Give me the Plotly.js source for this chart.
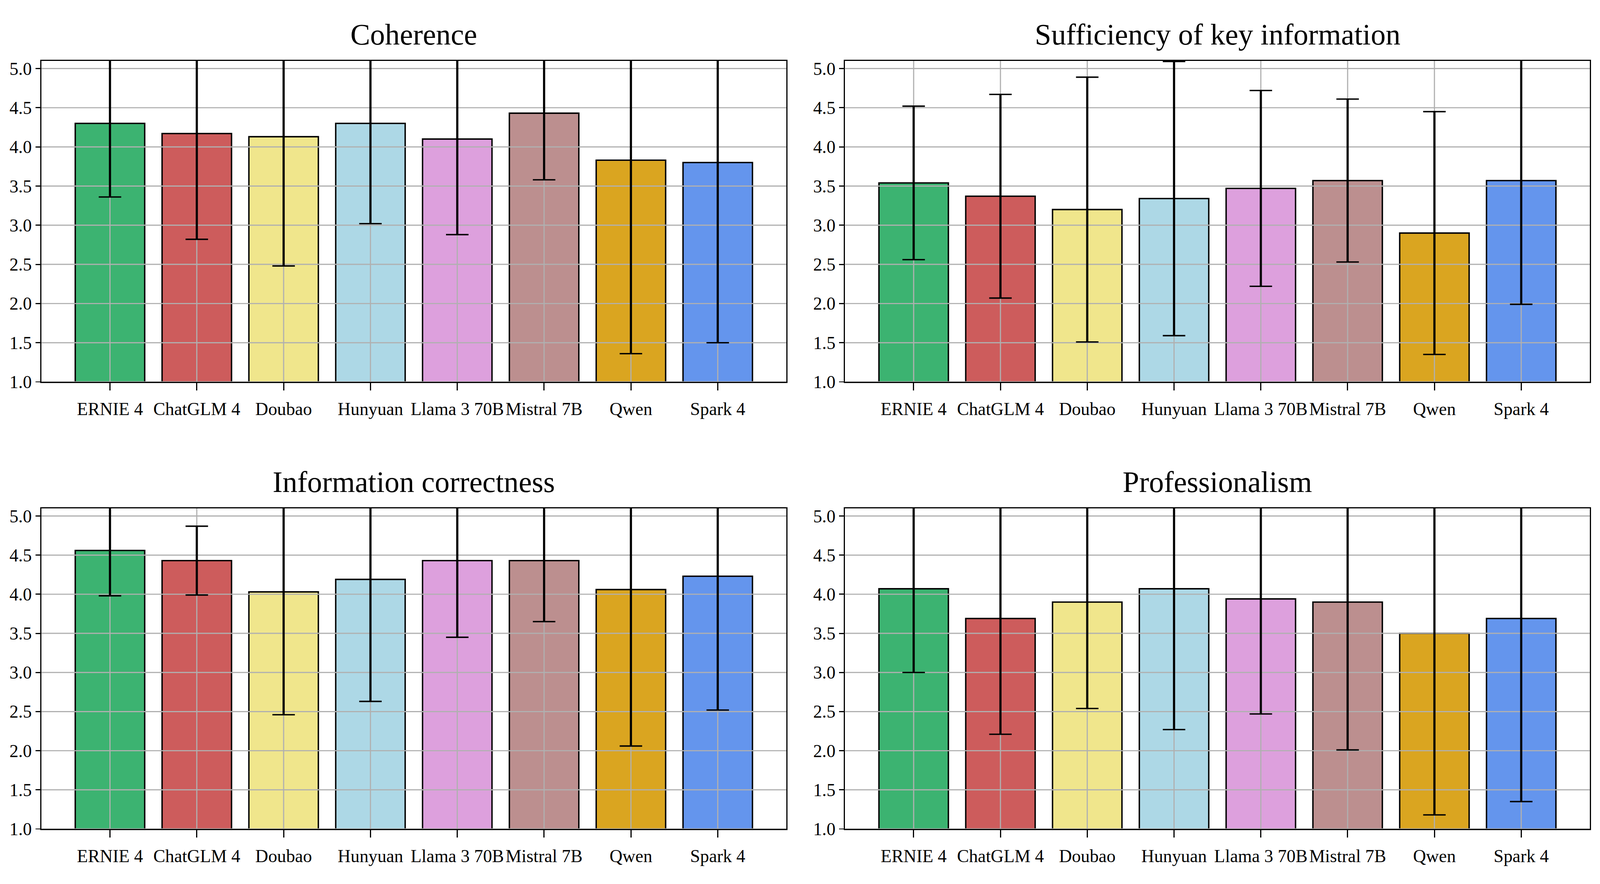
<!DOCTYPE html>
<html>
<head>
<meta charset="utf-8">
<script src="https://cdn.plot.ly/plotly-3.0.1.min.js"></script>
<style>html,body{margin:0;padding:0;background:#fff;overflow:hidden;width:100%;height:100%;}#chart{position:absolute;left:0;top:0;}</style>
</head>
<body>
<div id="chart"></div>
<script>
const categories = ['ERNIE 4', 'ChatGLM 4', 'Doubao', 'Hunyuan', 'Llama 3 70B', 'Mistral 7B', 'Qwen', 'Spark 4'];
const barColors = ['#3CB371', '#CD5C5C', '#F0E68C', '#ADD8E6', '#DDA0DD', '#BC8F8F', '#DAA520', '#6495ED'];
const panelTitles = ['Coherence', 'Sufficiency of key information', 'Information correctness', 'Professionalism'];

const coherenceMean = [4.30, 4.17, 4.13, 4.30, 4.10, 4.43, 3.83, 3.80];
const coherenceErr  = [0.94, 1.35, 1.65, 1.28, 1.22, 0.85, 2.47, 2.30];

const sufficiencyMean = [3.54, 3.37, 3.20, 3.34, 3.47, 3.57, 2.90, 3.57];
const sufficiencyErr  = [0.98, 1.30, 1.69, 1.75, 1.25, 1.04, 1.55, 1.58];

const correctnessMean = [4.56, 4.43, 4.03, 4.19, 4.43, 4.43, 4.06, 4.23];
const correctnessErr  = [0.58, 0.44, 1.57, 1.56, 0.98, 0.78, 2.00, 1.71];

const professionalismMean = [4.07, 3.69, 3.90, 4.07, 3.94, 3.90, 3.50, 3.69];
const professionalismErr  = [1.07, 1.48, 1.36, 1.80, 1.47, 1.89, 2.32, 2.34];

const yTickVals = [1.0, 1.5, 2.0, 2.5, 3.0, 3.5, 4.0, 4.5, 5.0];
const yTickText = ['1.0', '1.5', '2.0', '2.5', '3.0', '3.5', '4.0', '4.5', '5.0'];

const means = [coherenceMean, sufficiencyMean, correctnessMean, professionalismMean];
const errs = [coherenceErr, sufficiencyErr, correctnessErr, professionalismErr];

// reference frame is 6263 x 2264; the layout is laid out in fractions of it
// and fitted to the actual viewport
const REF_W = 6263, REF_H = 2264;
const W = document.documentElement.clientWidth || window.innerWidth || REF_W;
const H = document.documentElement.clientHeight || window.innerHeight || REF_H;
const sx = W / REF_W, sy = H / REF_H;
const s = Math.min(sx, sy);
const px = v => v * s;

const xRange = [-0.79, 7.79];
const yRange = [1.0, 5.1];
const FONT = 'Liberation Serif, Times New Roman, serif';
const GRID = '#b0b0b0';

const xDomains = [[162 / REF_W, 3078 / REF_W], [3308 / REF_W, 6223 / REF_W]];
const yDomains = [[1 - 978 / REF_H, 1 - 155.5 / REF_H], [1 - 2123 / REF_H, 1 - 1301.5 / REF_H]];

const el = document.getElementById('chart');
el.style.width = W + 'px';
el.style.height = H + 'px';

const tickFontSize = px(70);
const titleFontSize = px(116);

const xIdx = categories.map((c, i) => i);
const data = [];
const layout = {
  width: W, height: H,
  margin: {l: 0, r: 0, t: 0, b: 0},
  paper_bgcolor: '#ffffff', plot_bgcolor: '#ffffff',
  showlegend: false,
  font: {family: FONT, size: tickFontSize, color: '#000'},
  annotations: []
};

for (let p = 0; p < 4; p++) {
  const row = Math.floor(p / 2), col = p % 2;
  const n = p + 1;
  const xa = n === 1 ? 'x' : 'x' + n;
  const ya = n === 1 ? 'y' : 'y' + n;
  const xKey = n === 1 ? 'xaxis' : 'xaxis' + n;
  const yKey = n === 1 ? 'yaxis' : 'yaxis' + n;

  data.push({
    type: 'bar', x: xIdx, y: means[p], xaxis: xa, yaxis: ya,
    width: 0.8,
    marker: {color: barColors, line: {color: '#000', width: px(5.5)}},
    hoverinfo: 'skip'
  });

  // grid lines drawn over the bars, as in the reference
  const gx = [], gy = [];
  xIdx.forEach(i => { gx.push(i, i, null); gy.push(yRange[0], yRange[1], null); });
  yTickVals.forEach(v => { gx.push(xRange[0], xRange[1], null); gy.push(v, v, null); });
  data.push({
    type: 'scatter', mode: 'lines', x: gx, y: gy, xaxis: xa, yaxis: ya,
    line: {color: GRID, width: px(4.5)}, hoverinfo: 'skip', connectgaps: false
  });

  // error bar stems (thick) and caps (thinner)
  data.push({
    type: 'scatter', mode: 'markers', x: xIdx, y: means[p], xaxis: xa, yaxis: ya,
    marker: {size: 1, color: 'rgba(0,0,0,0)'},
    error_y: {type: 'data', array: errs[p], visible: true, color: '#000', thickness: px(8.5), width: 0},
    hoverinfo: 'skip'
  });
  data.push({
    type: 'scatter', mode: 'markers', x: xIdx, y: means[p], xaxis: xa, yaxis: ya,
    marker: {size: 1, color: 'rgba(0,0,0,0)'},
    error_y: {type: 'data', array: errs[p], visible: true, color: '#000', thickness: px(5.5), width: px(44)},
    hoverinfo: 'skip'
  });

  layout[xKey] = {
    domain: xDomains[col], anchor: ya, range: xRange,
    tickmode: 'array', tickvals: xIdx, ticktext: categories,
    showgrid: false, zeroline: false,
    showline: true, linecolor: '#000', linewidth: px(4.5), mirror: true,
    ticks: 'outside', ticklen: 19 * sy, tickwidth: px(4.5), tickcolor: '#000',
    ticklabelstandoff: Math.round(8 * sy),
    tickfont: {family: FONT, size: tickFontSize, color: '#000'}, fixedrange: true
  };
  layout[yKey] = {
    domain: yDomains[row], anchor: xa, range: yRange,
    tickmode: 'array', tickvals: yTickVals, ticktext: yTickText,
    showgrid: false, zeroline: false,
    showline: true, linecolor: '#000', linewidth: px(4.5), mirror: true,
    ticks: 'outside', ticklen: px(19), tickwidth: px(4.5), tickcolor: '#000',
    tickfont: {family: FONT, size: tickFontSize, color: '#000'}, fixedrange: true
  };

  layout.annotations.push({
    text: panelTitles[p], xref: 'paper', yref: 'paper',
    x: (xDomains[col][0] + xDomains[col][1]) / 2, y: yDomains[row][1],
    xanchor: 'center', yanchor: 'bottom',
    yshift: Math.max(2, 40 * sy - 0.215 * titleFontSize), showarrow: false,
    font: {family: FONT, size: titleFontSize, color: '#000'}
  });
}

Plotly.newPlot('chart', data, layout, {staticPlot: true, displayModeBar: false});
</script>
</body>
</html>
